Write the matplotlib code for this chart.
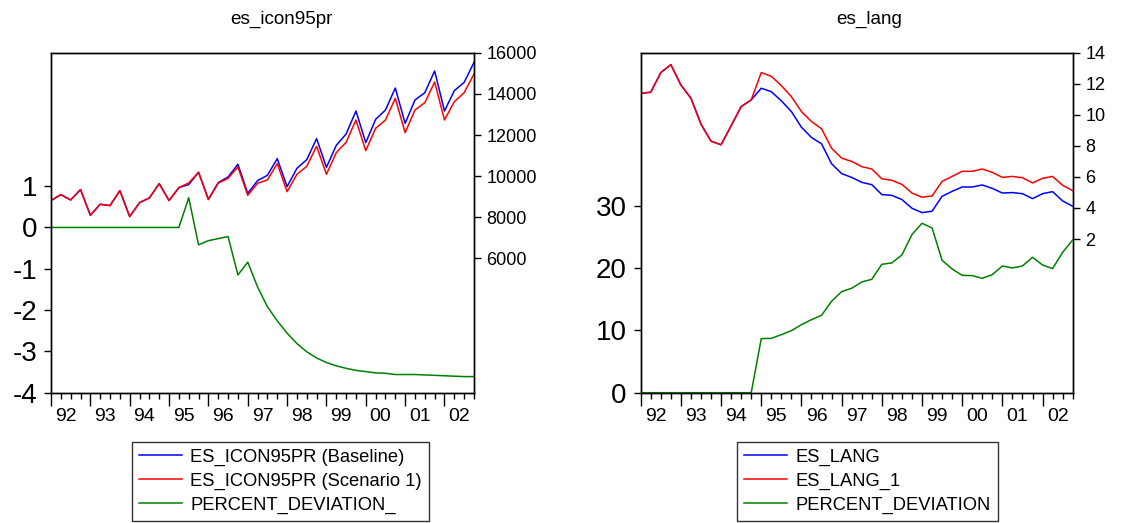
import matplotlib
matplotlib.use("Agg")
import matplotlib.pyplot as plt
from matplotlib.lines import Line2D
import numpy as np

plt.rcParams['font.family'] = ['Liberation Sans', 'DejaVu Sans']

# quarterly sample 1992Q1 - 2002Q4
years = ["92", "93", "94", "95", "96", "97", "98", "99", "00", "01", "02"]
n_q = 44

icon_base = [8812, 9103, 8844, 9346, 8100, 8634, 8569, 9297, 8035, 8715, 8941, 9637,
             8812, 9443, 9589, 10188, 8876, 9686, 9961, 10576, 9168, 9783, 10042, 10852,
             9492, 10382, 10803, 11823, 10431, 11499, 12050, 13167, 11629, 12762, 13215, 14284,
             12568, 13701, 14057, 15110, 13167, 14154, 14559, 15530]
icon_scen = [8812, 9103, 8844, 9346, 8100, 8634, 8569, 9297, 8035, 8715, 8941, 9637,
             8812, 9443, 9670, 10188, 8860, 9660, 9896, 10447, 9071, 9654, 9816, 10609,
             9249, 10091, 10479, 11451, 10091, 11143, 11645, 12730, 11240, 12325, 12730, 13782,
             12114, 13215, 13571, 14575, 12730, 13620, 14057, 14964]
icon_dev = [0, 0, 0, 0, 0, 0, 0, 0, 0, 0, 0, 0,
            0, 0, 0.72, -0.42, -0.32, -0.27, -0.22, -1.15, -0.84, -1.44, -1.92, -2.26,
            -2.56, -2.81, -3.01, -3.16, -3.27, -3.35, -3.41, -3.46, -3.49, -3.52, -3.53, -3.56,
            -3.56, -3.56, -3.57, -3.58, -3.59, -3.60, -3.61, -3.61]

lang_base = [11.39, 11.45, 12.72, 13.23, 11.92, 11.07, 9.40, 8.30, 8.07, 9.29, 10.53, 10.96,
             11.71, 11.49, 10.90, 10.21, 9.20, 8.54, 8.13, 6.85, 6.21, 5.97, 5.65, 5.50,
             4.86, 4.81, 4.54, 3.98, 3.70, 3.79, 4.75, 5.07, 5.35, 5.35, 5.48, 5.26,
             4.96, 4.99, 4.92, 4.60, 4.92, 5.05, 4.45, 4.11]
lang_scen = [11.39, 11.45, 12.72, 13.23, 11.92, 11.07, 9.40, 8.30, 8.07, 9.29, 10.53, 10.96,
             12.72, 12.48, 11.88, 11.17, 10.21, 9.57, 9.10, 7.85, 7.21, 7.00, 6.66, 6.51,
             5.88, 5.78, 5.52, 4.96, 4.69, 4.77, 5.71, 6.03, 6.36, 6.36, 6.51, 6.29,
             5.97, 6.03, 5.95, 5.61, 5.91, 6.03, 5.46, 5.11]
lang_dev = [0, 0, 0, 0, 0, 0, 0, 0, 0, 0, 0, 0,
            8.68, 8.73, 9.32, 9.96, 10.93, 11.73, 12.43, 14.68, 16.23, 16.77, 17.78, 18.21,
            20.62, 20.84, 22.12, 25.39, 27.21, 26.46, 21.26, 19.87, 18.85, 18.80, 18.37, 18.96,
            20.35, 20.03, 20.35, 21.75, 20.51, 19.93, 22.55, 24.53]

BLUE, RED, GREEN = "#0000ff", "#ff0000", "#008000"
LW = 1.1
q = np.arange(n_q)
W, H = 1139, 523

fig = plt.figure(figsize=(W / 100, H / 100), dpi=100)


def make_panel(rect, title, title_x, dev, base, scen, dev_lim, dev_ticks, lvl_lim, lvl_ticks,
               labels, leg_anchor):
    ax = fig.add_axes(rect)
    ax2 = ax.twinx()
    ax.set_zorder(ax2.get_zorder() + 1)
    ax.patch.set_visible(False)

    ax2.plot(q, base, color=BLUE, lw=LW)
    ax2.plot(q, scen, color=RED, lw=LW)
    ax.plot(q, dev, color=GREEN, lw=LW)

    ax.set_xlim(0, n_q - 1)
    ax.set_ylim(*dev_lim)
    ax.set_yticks(dev_ticks)
    ax.set_yticklabels([f"{t:g}" for t in dev_ticks])
    ax2.set_ylim(*lvl_lim)
    ax2.set_yticks(lvl_ticks)
    ax2.set_yticklabels([f"{t:g}" for t in lvl_ticks])

    ax.tick_params(axis='y', labelsize=20, length=5, width=1, pad=5)
    ax2.tick_params(axis='y', labelsize=13, length=5, width=1, pad=4)

    ax.set_xticks(np.arange(0, n_q, 4))
    ax.set_xticks(q, minor=True)
    ax.set_xticklabels([])
    ax.tick_params(axis='x', which='major', length=9, width=1)
    ax.tick_params(axis='x', which='minor', length=4, width=1)
    for k, yr in enumerate(years):
        ax.text(1.5 + 4 * k, -0.045, yr, transform=ax.get_xaxis_transform(),
                ha='center', va='top', fontsize=14)

    for a in (ax, ax2):
        for s in a.spines.values():
            s.set_linewidth(1)
            s.set_color('black')

    fig.text(title_x / W, 1 - 19 / H, title, ha='center', va='center', fontsize=13.6)

    handles = [Line2D([], [], color=c, lw=LW) for c in (BLUE, RED, GREEN)]
    leg = fig.legend(handles, labels, loc='lower left', bbox_to_anchor=leg_anchor,
                     fontsize=13.2, frameon=True, fancybox=False, edgecolor='black',
                     handlelength=2.35, handletextpad=0.45, labelspacing=0.36,
                     borderpad=0.38, borderaxespad=0)
    leg.get_frame().set_linewidth(1)
    return ax


make_panel([51 / W, 1 - 392.7 / H, 423 / W, 340 / H], "es_icon95pr", 281,
           icon_dev, icon_base, icon_scen,
           (-4, 4.23), [-4, -3, -2, -1, 0, 1], (-524, 16000), [6000, 8000, 10000, 12000, 14000, 16000],
           ["ES_ICON95PR (Baseline)", "ES_ICON95PR (Scenario 1)", "PERCENT_DEVIATION_"],
           (131.7 / W, 1 - 520.5 / H))
make_panel([640.7 / W, 1 - 392.7 / H, 432 / W, 340 / H], "es_lang", 869,
           lang_dev, lang_base, lang_scen,
           (0, 54.6), [0, 10, 20, 30], (-7.9, 14), [2, 4, 6, 8, 10, 12, 14],
           ["ES_LANG", "ES_LANG_1", "PERCENT_DEVIATION"],
           (737.3 / W, 1 - 520.5 / H))

fig.savefig("out.png", dpi=100)
